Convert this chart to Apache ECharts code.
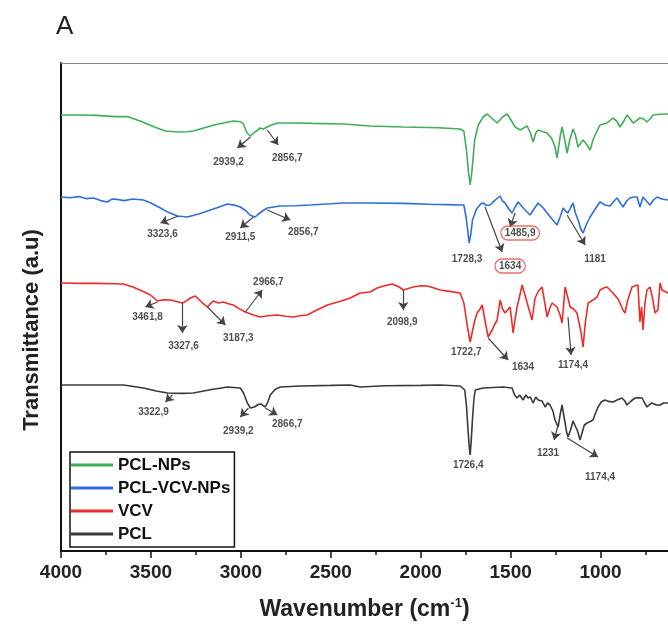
<!DOCTYPE html>
<html><head><meta charset="utf-8">
<script src="https://cdn.jsdelivr.net/npm/echarts@6/dist/echarts.min.js"></script>
<style>html,body{margin:0;padding:0;background:#fff}#c{width:668px;height:633px}</style>
</head><body><div id="c"></div>
<script>
// ---- data: [wavenumber (cm-1), transmittance (a.u., stacked offsets)] ----
const seriesNames = ['PCL-NPs', 'PCL-VCV-NPs', 'VCV', 'PCL'];
const seriesColors = ['#3fae5a', '#2e6fdc', '#ee2a2a', '#3a3a3a'];

const pclNps = [[4000,109],[3900,109],[3800,108.9],[3700,108.6],[3631,108.6],[3560,107.5],[3480,106],[3420,105],[3353,104.75],[3300,104.8],[3264,105],[3150,106.5],[3042,107.5],[3000,107.3],[2986,106.75],[2965,104.5],[2947,103.75],[2920,104.8],[2892,105.75],[2875,105.5],[2864,105.25],[2840,106.3],[2797,107],[2700,107],[2600,106.9],[2431,106.75],[2281,106.25],[2100,106],[1900,105.8],[1781,105.5],[1760,105],[1745,100],[1735,95],[1725,91.5],[1715,95],[1700,102.75],[1680,106.5],[1653,108.5],[1631,109.25],[1600,108],[1575,107],[1545,108.5],[1519,109.25],[1495,107.5],[1475,106],[1447,105.25],[1408,106.25],[1390,104.5],[1375,102.25],[1360,104.5],[1347,105.25],[1320,104.8],[1297,104.5],[1270,103],[1253,101],[1242,98.25],[1233,101],[1225,103.5],[1214,106],[1200,103],[1186,99.5],[1170,103],[1153,105.5],[1140,104],[1125,101],[1110,102],[1097,102.75],[1075,101.5],[1058,100.25],[1042,102.75],[1020,105],[1003,106.5],[964,107],[931,108.25],[910,107.5],[892,106],[870,107.5],[853,109],[835,108],[819,107],[800,107.6],[781,108.25],[760,108],[742,107.25],[725,108],[708,109],[670,109.2],[625,109.25]];

const pclVcvNps = [[4000,88.5],[3950,88.3],[3900,88.6],[3860,88.1],[3819,88.25],[3780,87.6],[3742,87.25],[3720,87.9],[3700,88],[3650,87.6],[3600,88],[3542,87.75],[3500,87],[3447,85.75],[3400,84.6],[3353,83.75],[3297,83.5],[3230,84.3],[3169,85.25],[3120,86],[3075,86.75],[3030,86.4],[3003,86],[2970,85],[2950,84],[2936,83.75],[2920,83.5],[2908,84],[2880,85],[2853,85.75],[2781,86.25],[2700,86.3],[2614,86.5],[2500,86.8],[2431,87],[2281,87],[2100,86.9],[1950,86.7],[1850,86.6],[1781,86.5],[1760,86.5],[1748,83.5],[1738,80],[1731,77],[1722,79],[1712,82.75],[1690,85.5],[1665,86.8],[1653,87],[1635,86.4],[1614,86.5],[1590,87.6],[1558,88.75],[1545,87.5],[1531,87],[1510,85.5],[1492,84.5],[1475,86],[1458,87.25],[1425,85.5],[1392,84],[1370,85.5],[1347,87],[1320,85.8],[1297,84.5],[1270,83],[1242,81.5],[1225,83.5],[1208,85.75],[1195,85],[1181,84.5],[1165,86],[1153,87],[1140,84.5],[1125,82.75],[1110,80.5],[1097,79.5],[1080,81.5],[1058,83.5],[1030,85.5],[1003,87.25],[975,86.5],[947,86.25],[925,87.5],[908,88.25],[890,87],[875,86],[855,87.5],[836,88.25],[815,88.5],[797,88.5],[781,86],[764,88.5],[745,87.5],[725,86.5],[705,87.8],[686,88.5],[660,88],[625,87.75]];

const vcv = [[4000,67],[3900,66.9],[3800,66.9],[3700,66.8],[3653,66.75],[3600,66],[3540,64.8],[3503,64],[3464,62.5],[3430,62.8],[3392,62.75],[3325,62],[3300,62.6],[3281,63.25],[3253,63.75],[3220,62.3],[3186,61],[3170,61.8],[3153,62.5],[3125,62],[3097,62.25],[3070,61.8],[3042,61.5],[3010,60.6],[2975,59.75],[2930,59],[2892,58.5],[2850,58.8],[2797,59],[2750,58.7],[2708,58.5],[2670,58.8],[2631,59],[2580,60.2],[2519,61.5],[2450,62.4],[2392,63.25],[2336,64.5],[2281,64.75],[2242,65.75],[2200,66.3],[2158,66.75],[2120,66],[2097,65.25],[2070,65.6],[2042,66],[2000,66.3],[1964,66.25],[1930,65.8],[1892,65.25],[1840,64.9],[1781,64.5],[1760,62],[1740,56],[1725,52.25],[1712,55],[1700,57.5],[1686,59.5],[1670,60.5],[1658,61.5],[1640,57],[1625,53.5],[1603,55.25],[1590,56.5],[1575,57.75],[1558,62.75],[1545,60.5],[1531,59.5],[1503,61],[1495,58],[1486,54.5],[1475,58],[1464,61],[1436,66.5],[1420,64],[1408,62],[1381,57.75],[1364,63.25],[1345,65],[1325,66],[1310,62],[1297,58.5],[1280,61],[1269,62],[1242,61],[1225,59],[1214,57],[1197,66],[1180,63],[1169,61],[1150,60.5],[1131,59.5],[1110,55],[1097,51],[1085,57],[1069,62],[1040,62.8],[1019,63.5],[1003,65.25],[980,65.8],[964,66],[931,64.5],[900,62.8],[875,60.25],[864,59.5],[850,62.5],[836,64.5],[825,66],[808,66.3],[792,66.5],[781,57.25],[772,61],[764,55.25],[753,62],[742,65.25],[725,66],[710,63],[697,59.5],[681,60.25],[669,67],[658,65.25],[625,64.5]];

const pcl = [[4000,41.5],[3800,41.5],[3653,41.5],[3542,40.75],[3470,40],[3408,39.5],[3330,39.4],[3264,39.5],[3170,40.3],[3075,41],[3003,40.75],[2985,39.5],[2964,37],[2947,35.75],[2925,36],[2908,36.5],[2890,36.8],[2881,37],[2864,36],[2850,37.3],[2836,39],[2810,40.4],[2781,41],[2669,41.25],[2500,41.4],[2392,41.5],[2336,41],[2200,41.3],[2000,41.4],[1892,41.5],[1781,41.25],[1755,40.25],[1745,36],[1738,31],[1730,26],[1725,24],[1720,27],[1712,33],[1704,38],[1697,40.25],[1653,40.75],[1542,41],[1492,40.75],[1478,39],[1464,38.25],[1450,39],[1431,37.75],[1415,39],[1403,38.25],[1390,38.5],[1375,37],[1360,38.5],[1347,37.75],[1325,37.5],[1308,36],[1295,37],[1281,36.5],[1265,35],[1253,32.75],[1236,31],[1225,34],[1214,36.5],[1205,34],[1197,32],[1190,30],[1181,28.5],[1165,30.5],[1153,32.5],[1142,32],[1128,30],[1114,27.75],[1100,30],[1090,31.5],[1075,32],[1060,32.3],[1042,32.75],[1028,34.5],[1014,36],[995,37.3],[975,37.75],[955,37.4],[931,37.25],[905,37.8],[881,38.25],[865,37.5],[853,36.5],[830,37.5],[808,38.25],[790,38.3],[769,38.25],[755,37],[742,36],[728,36.6],[714,37],[690,36.5],[669,36.5],[650,37],[625,37]];

const xMajorTicks = [4000, 3500, 3000, 2500, 2000, 1500, 1000];
const xMinorTicks = [3750, 3250, 2750, 2250, 1750, 1250, 750];

// peak annotations: [text, wavenumber, transmittance, circled]
const peakLabels = [
  ['2939,2', 3069, 97.25, false], ['2856,7', 2742, 98.25, false],
  ['3323,6', 3436, 79.25, false], ['2911,5', 3003, 78.5, false], ['2856,7', 2653, 79.75, false],
  ['1728,3', 1742, 73, false], ['1485,9', 1447, 79.5, true], ['1634', 1503, 71.25, true], ['1181', 1031, 73, false],
  ['3461,8', 3519, 58.5, false], ['3327,6', 3319, 51.25, false], ['3187,3', 3014, 53.25, false], ['2966,7', 2847, 67.25, false],
  ['2098,9', 2103, 57.25, false], ['1722,7', 1747, 49.75, false], ['1634', 1431, 46, false], ['1174,4', 1153, 46.5, false],
  ['3322,9', 3486, 34.75, false], ['2939,2', 3014, 30, false], ['2866,7', 2742, 31.75, false],
  ['1726,4', 1736, 21.5, false], ['1231', 1292, 24.5, false], ['1174,4', 1003, 18.5, false]
];
// arrows: [fromWn, fromT, toWn, toT]
const peakArrows = [
  [2947, 103.5, 3019, 100.75], [2853, 105.25, 2792, 101.5],
  [3347, 83.75, 3447, 82], [2931, 83.5, 3003, 80.75], [2853, 85.25, 2725, 82.75],
  [1475, 84.5, 1503, 81], [1642, 86, 1547, 74.75], [1186, 84, 1086, 76.5],
  [3464, 62.25, 3531, 61], [3325, 62, 3325, 54.5], [3186, 61, 3086, 56.5], [2975, 59.75, 2881, 65.25],
  [2097, 65.25, 2097, 60.25], [1625, 53.25, 1514, 47.75], [1181, 58.5, 1164, 49],
  [3381, 39, 3419, 37.25], [2958, 35.75, 3003, 33.5], [2864, 35.75, 2797, 34],
  [1236, 31.5, 1258, 27.75], [1186, 28.25, 1014, 23.5]
];

const chart = echarts.init(document.getElementById('c'), null, {renderer: 'canvas'});
const spectra = [pclNps, pclVcvNps, vcv, pcl];

const lineSeries = seriesNames.map((n, i) => ({
  name: n, type: 'line', data: spectra[i], showSymbol: false, symbol: 'none',
  lineStyle: {color: seriesColors[i], width: 1.6}, itemStyle: {color: seriesColors[i]},
  z: 3, silent: true
}));

const annSeries = {
  name: 'peaks', type: 'scatter', symbolSize: 1, itemStyle: {color: 'rgba(0,0,0,0)'}, silent: true, z: 5,
  data: peakLabels.map(l => {
    const d = {name: l[0], value: [l[1], l[2]]};
    if (l[3]) d.label = {borderColor: '#e24a4a', borderWidth: 1.3, borderRadius: 9, padding: [2, 4]};
    return d;
  }),
  label: {show: true, position: 'inside', formatter: '{b}', fontSize: 10, fontWeight: 'bold',
          color: '#222', fontFamily: 'Arial'},
  markLine: {
    silent: true, animation: false, symbol: ['none', 'arrow'], symbolSize: 8,
    label: {show: false},
    lineStyle: {color: '#444', width: 1.2, type: 'solid'},
    emphasis: {disabled: true},
    data: peakArrows.map(a => [{coord: [a[0], a[1]]}, {coord: [a[2], a[3]]}])
  }
};

const commonX = {type: 'value', inverse: true, min: 625, max: 4000, splitLine: {show: false}};

chart.setOption({
  animation: false,
  backgroundColor: '#fff',
  grid: {left: 61, top: 63, right: 0, height: 488, show: false},
  xAxis: [
    Object.assign({}, commonX, {
      position: 'bottom',
      axisLine: {show: true, lineStyle: {color: '#111', width: 2}},
      axisTick: {show: true, length: 7, customValues: xMajorTicks, lineStyle: {color: '#111', width: 1.5}},
      axisLabel: {fontSize: 19, fontWeight: 'bold', color: '#222', margin: 12, fontFamily: 'Arial',
        customValues: xMajorTicks, formatter: v => String(v)},
      name: '{a|Wavenumber (cm}{s|-1}{a|)}', nameLocation: 'middle', nameGap: 46,
      nameTextStyle: {padding: [0, 0, 0, 0], rich: {
        a: {fontSize: 23, fontWeight: 'bold', color: '#222', fontFamily: 'Arial', lineHeight: 26},
        s: {fontSize: 13, fontWeight: 'bold', color: '#222', fontFamily: 'Arial', verticalAlign: 'top', lineHeight: 26, padding: [0, 0, 12, 0]}
      }}
    }),
    Object.assign({}, commonX, {
      position: 'bottom',
      axisLine: {show: false},
      axisTick: {show: true, length: 4, customValues: xMinorTicks, lineStyle: {color: '#111', width: 1.5}},
      axisLabel: {show: false}
    }),
    Object.assign({}, commonX, {
      position: 'top',
      axisLine: {show: true, lineStyle: {color: '#888', width: 1.2}},
      axisTick: {show: false}, axisLabel: {show: false}
    })
  ],
  yAxis: {
    type: 'value', min: 0, max: 122,
    axisLine: {show: true, lineStyle: {color: '#111', width: 2}},
    axisTick: {show: false}, axisLabel: {show: false}, splitLine: {show: false}
  },
  legend: {
    orient: 'vertical', left: 70, top: 452, data: seriesNames, icon: 'rect',
    itemWidth: 42, itemHeight: 3, itemGap: 4, padding: [3.5, 4, 3.5, 1],
    borderColor: '#111', borderWidth: 1.5, backgroundColor: '#fff', selectedMode: false,
    textStyle: {fontSize: 17, fontWeight: 'bold', color: '#111', fontFamily: 'Arial', lineHeight: 19}
  },
  graphic: [
    {type: 'text', x: 56, y: 14, style: {text: 'A', font: '26px Arial', fill: '#222'}},
    {type: 'text', x: 32, y: 330, rotation: Math.PI / 2,
     style: {text: 'Transmittance (a.u)', font: 'bold 22px Arial', fill: '#222', textAlign: 'center', textVerticalAlign: 'middle'}}
  ],
  series: lineSeries.concat([annSeries])
});
</script>
</body></html>
